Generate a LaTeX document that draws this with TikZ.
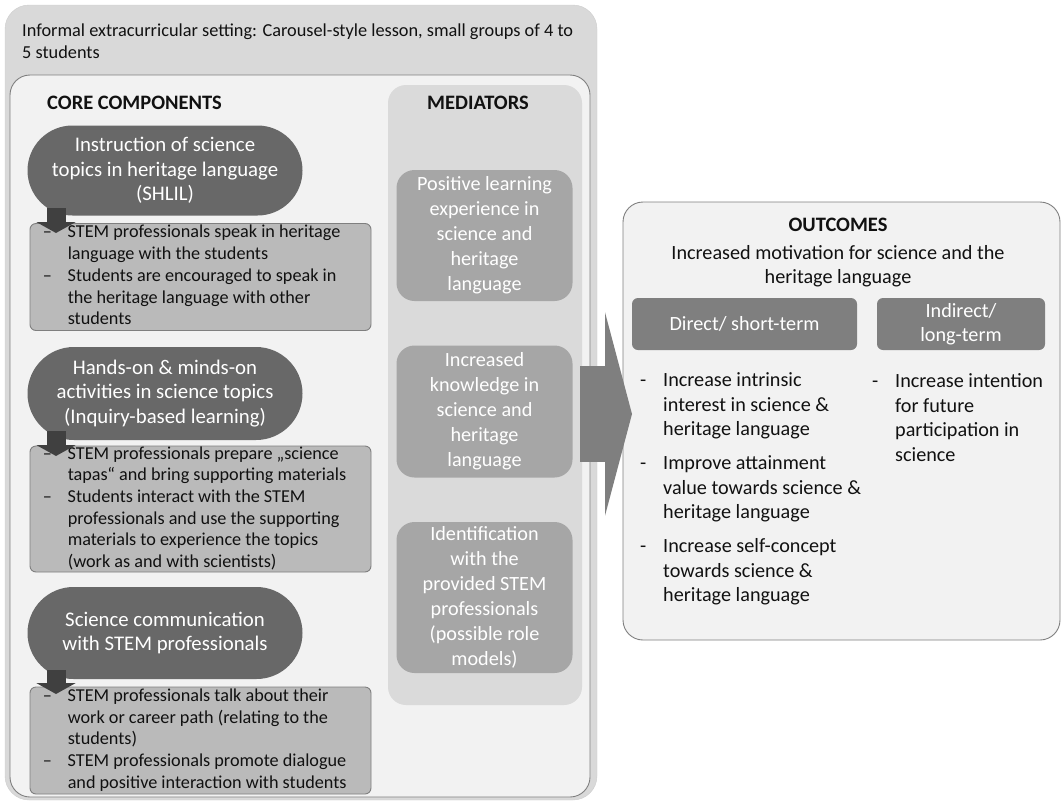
\documentclass[tikz,border=0pt]{standalone}
\usepackage{fontspec}
\setmainfont{Carlito}
\usetikzlibrary{shapes.misc,arrows.meta,fit}
\definecolor{outerbg}{HTML}{D9D9D9}
\definecolor{outeredge}{HTML}{CDCDCD}
\definecolor{innerbg}{HTML}{F2F2F2}
\definecolor{edge}{HTML}{7F7F7F}
\definecolor{medpanel}{HTML}{DADADA}
\definecolor{medbox}{HTML}{A6A6A6}
\definecolor{pillc}{HTML}{686868}
\definecolor{coreboxc}{HTML}{BABABA}
\definecolor{darkarrow}{HTML}{404040}
\definecolor{bigarrowc}{HTML}{7F7F7F}
\definecolor{txt}{HTML}{111111}
\newcommand{\fs}[2]{\fontsize{#1}{#2}\selectfont}
\begin{document}
\begin{tikzpicture}[x=1pt,y=-1pt,
  every node/.style={text=txt},
  frame/.style={inner sep=0pt, outer sep=0pt},
  pill/.style={rounded rectangle, fill=pillc, text=white, align=center, inner sep=0pt, font=\fs{20.8}{24.5}},
  medb/.style={rounded corners=18pt, fill=medbox, text=white, align=center, inner sep=0pt, font=\fs{20.2}{25}},
  coreb/.style={rounded corners=6pt, fill=coreboxc, draw=edge, line width=0.9pt, inner sep=0pt},
  coretext/.style={anchor=west, inner sep=0pt, font=\fs{18.2}{21.7}},
  hdr/.style={rounded corners=6pt, fill=bigarrowc, text=white, align=center, inner sep=0pt, font=\fs{20.2}{24.5}},
  head/.style={font=\bfseries\fs{20.5}{22}},
  darrow/.style={draw=darkarrow, line width=19pt, -{Triangle[length=11pt,width=39pt]}},
  barrow/.style={draw=bigarrowc, line width=96pt, -{Triangle[length=27pt,width=203pt]}},
  list/.style={anchor=north west, inner sep=0pt, font=\fs{20.2}{24.5}}
]
\useasboundingbox (0,0) rectangle (1061,801);

% outer setting box
\node[frame, fit={(5,5)(597,800)}, rounded corners=24pt, fill=outerbg, draw=outeredge] (outer) {};
\node[anchor=west, align=left, inner sep=0pt, font=\fs{18.3}{22}] (title) at (22,41)
  {Informal extracurricular setting: Carousel-style lesson, small groups of 4 to\\5 students};

% inner box
\node[frame, fit={(10,75)(590,797)}, rounded corners=20pt, fill=innerbg, draw=edge, line width=0.9pt] (inner) {};
\node[head, anchor=west, inner sep=0pt] (cchead) at (47,103) {CORE COMPONENTS};

% mediators panel
\node[frame, fit={(388,85)(582,705)}, rounded corners=18pt, fill=medpanel] (medpanel) {};
\node[head, inner sep=0pt] (medhead) at (478,103) {MEDIATORS};
\node[medb, minimum width=176pt, minimum height=131pt] (m1) at (484.5,235.5)
  {Positive learning\\experience in\\science and\\heritage\\language};
\node[medb, minimum width=176pt, minimum height=132pt] (m2) at (484.5,411.5)
  {Increased\\knowledge in\\science and\\heritage\\language};
\node[medb, minimum width=176pt, minimum height=151pt] (m3) at (484.5,597.5)
  {Identification\\with the\\provided STEM\\professionals\\(possible role\\models)};

% core components
\node[pill, minimum width=275pt, minimum height=90pt] (p1) at (165,170.5)
  {Instruction of science\\topics in heritage language\\(SHLIL)};
\node[coreb, minimum width=341pt, minimum height=107pt] (b1) at (200.5,277) {};
\node[coretext] (t1) at ([xshift=13pt]b1.west)
  {\begin{tabular}{@{}p{25pt}@{}l@{}}
  -- & STEM professionals speak in heritage\\
     & language with the students\\
  -- & Students are encouraged to speak in\\
     & the heritage language with other\\
     & students
  \end{tabular}};
\coordinate (a1s) at (56,208);
\coordinate (a1e) at (56,233);
\draw[darrow] (a1s) -- (a1e);

\node[pill, minimum width=275pt, minimum height=93pt] (p2) at (165,393.5)
  {Hands-on \& minds-on\\activities in science topics\\(Inquiry-based learning)};
\node[coreb, minimum width=341pt, minimum height=126pt] (b2) at (200.5,509) {};
\node[coretext] (t2) at ([xshift=13pt]b2.west)
  {\begin{tabular}{@{}p{25pt}@{}l@{}}
  -- & STEM professionals prepare „science\\
     & tapas“ and bring supporting materials\\
  -- & Students interact with the STEM\\
     & professionals and use the supporting\\
     & materials to experience the topics\\
     & (work as and with scientists)
  \end{tabular}};
\coordinate (a2s) at (56,431);
\coordinate (a2e) at (56,456);
\draw[darrow] (a2s) -- (a2e);

\node[pill, minimum width=275pt, minimum height=92pt] (p3) at (165,633)
  {Science communication\\with STEM professionals};
\node[coreb, minimum width=341pt, minimum height=107pt] (b3) at (200.5,740.5) {};
\node[coretext] (t3) at ([xshift=13pt]b3.west)
  {\begin{tabular}{@{}p{25pt}@{}l@{}}
  -- & STEM professionals talk about their\\
     & work or career path (relating to the\\
     & students)\\
  -- & STEM professionals promote dialogue\\
     & and positive interaction with students
  \end{tabular}};
\coordinate (a3s) at (56,670);
\coordinate (a3e) at (56,694);
\draw[darrow] (a3s) -- (a3e);

% outcomes
\node[frame, fit={(623,202)(1060,640)}, rounded corners=20pt, fill=innerbg, draw=edge, line width=0.9pt] (out) {};
\coordinate (bs) at (580,414);
\coordinate (be) at (632,414);
\draw[barrow] (bs) -- (be);
\node[head, inner sep=0pt] (outhead) at (838,225) {OUTCOMES};
\node[align=center, inner sep=0pt, font=\fs{20.2}{24.5}] (outsub) at (838,266)
  {Increased motivation for science and the\\heritage language};
\node[hdr, minimum width=225pt, minimum height=52pt] (direct) at (744.5,324) {Direct/ short-term};
\node[hdr, minimum width=168pt, minimum height=52pt] (indirect) at (961,324) {Indirect/\\long-term};
\node[list] (l1) at (640,369.5)
  {\begin{tabular}{@{}p{23pt}@{}l@{}}
  - & Increase intrinsic\\
    & interest in science \&\\
    & heritage language\\[9.5pt]
  - & Improve attainment\\
    & value towards science \&\\
    & heritage language\\[9.5pt]
  - & Increase self-concept\\
    & towards science \&\\
    & heritage language
  \end{tabular}};
\node[list] (l2) at (872,370.5)
  {\begin{tabular}{@{}p{23pt}@{}l@{}}
  - & Increase intention\\
    & for future\\
    & participation in\\
    & science
  \end{tabular}};
\end{tikzpicture}
\end{document}
